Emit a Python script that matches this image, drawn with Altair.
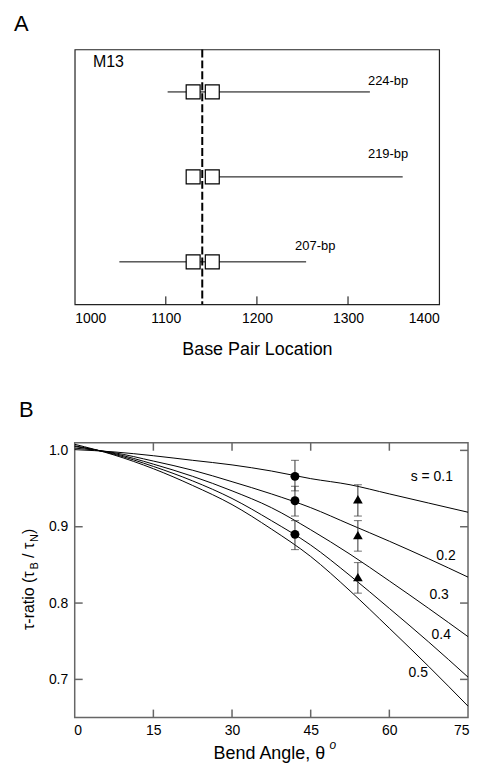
import altair as alt
import pandas as pd

FONT = "Liberation Sans"

# ---------------- Panel A data ----------------
a_rows = ["224-bp", "219-bp", "207-bp"]
a_row_pos = [5, 3, 1]
a_range_lo = [1102, 1151, 1049]
a_range_hi = [1324, 1360, 1254]
a_square_left = [1130, 1130, 1130]
a_square_right = [1151, 1151, 1151]
a_label_x = [1344, 1344, 1264]
a_label_y = [5.25, 3.54, 1.38]
a_ref_line = [1140]
a_tick_values = [1000, 1100, 1200, 1300, 1400]
a_inner_ticks = [1100, 1200, 1300]
a_note = ["M13"]
a_note_x = [1020]
a_note_y = [5.70]

# ---------------- Panel B data ----------------
b_angles = [0, 7.5, 15, 22.5, 30, 37.5, 45, 52.5, 60, 67.5, 75]
b_s = ["0.1", "0.2", "0.3", "0.4", "0.5"]
b_curve_01 = [1.001, 0.998, 0.993, 0.987, 0.981, 0.973, 0.963, 0.955, 0.943, 0.931, 0.919]
b_curve_02 = [1.003, 0.997, 0.986, 0.974, 0.959, 0.943, 0.925, 0.903, 0.881, 0.858, 0.834]
b_curve_03 = [1.005, 0.996, 0.982, 0.966, 0.947, 0.925, 0.896, 0.864, 0.829, 0.793, 0.756]
b_curve_04 = [1.006, 0.995, 0.979, 0.960, 0.937, 0.908, 0.876, 0.836, 0.793, 0.749, 0.703]
b_curve_05 = [1.008, 0.994, 0.976, 0.954, 0.929, 0.897, 0.861, 0.816, 0.767, 0.717, 0.665]

b_circle_x = [42, 42, 42]
b_circle_y = [0.966, 0.934, 0.890]
b_circle_lo = [0.947, 0.914, 0.870]
b_circle_hi = [0.987, 0.953, 0.908]

b_tri_x = [54, 54, 54]
b_tri_y = [0.936, 0.889, 0.834]
b_tri_lo = [0.914, 0.868, 0.813]
b_tri_hi = [0.955, 0.908, 0.853]

b_label_text = ["s = 0.1", "0.2", "0.3", "0.4", "0.5"]
b_label_x = [68.1, 70.8, 69.5, 69.9, 65.5]
b_label_y = [0.9645, 0.862, 0.810, 0.758, 0.708]

b_x_ticks = [0, 15, 30, 45, 60, 75]
b_x_inner = [15, 30, 45, 60]
b_y_ticks = [0.7, 0.8, 0.9, 1.0]
b_y_inner_left = [0.7, 0.8, 0.9]
b_y_inner_right = [0.7, 0.8, 0.9, 1.0]

# ---------------- Panel A ----------------
AW, AH = 366, 256
xa = alt.Scale(domain=[1000, 1400], nice=False)
ya = alt.Scale(domain=[0, 6], nice=False)

a_df = pd.DataFrame({
    "row": a_rows, "pos": a_row_pos, "lo": a_range_lo, "hi": a_range_hi,
    "sl": a_square_left, "sr": a_square_right, "lx": a_label_x, "ly": a_label_y,
})

a_err = alt.Chart(a_df).mark_rule(color="black", strokeWidth=1).encode(
    x=alt.X("lo:Q", scale=xa, axis=alt.Axis(
        values=a_tick_values, title="Base Pair Location", grid=False, ticks=False,
        tickSize=0, domain=False, labelFontSize=14, labelPadding=7, labelColor="black",
        titleFontSize=18, titleFontWeight="normal", titleColor="black",
        titleBaseline="alphabetic", titleY=50, format="d")),
    x2="hi:Q",
    y=alt.Y("pos:Q", scale=ya, axis=None),
)

a_ref = alt.Chart(pd.DataFrame({"v": a_ref_line})).mark_rule(
    color="black", strokeWidth=2, strokeDash=[8, 3]
).encode(x=alt.X("v:Q", scale=xa))

a_sq_l = alt.Chart(a_df).mark_point(
    shape="square", size=196, filled=True, fill="white", stroke="black",
    strokeWidth=1.2, opacity=1
).encode(x=alt.X("sl:Q", scale=xa), y=alt.Y("pos:Q", scale=ya, axis=None))

a_sq_r = alt.Chart(a_df).mark_point(
    shape="square", size=196, filled=True, fill="white", stroke="black",
    strokeWidth=1.2, opacity=1
).encode(x=alt.X("sr:Q", scale=xa), y=alt.Y("pos:Q", scale=ya, axis=None))

a_lab = alt.Chart(a_df).mark_text(fontSize=13, color="black", align="center", baseline="middle").encode(
    x=alt.X("lx:Q", scale=xa), y=alt.Y("ly:Q", scale=ya, axis=None), text="row:N")

a_m13 = alt.Chart(pd.DataFrame({"t": a_note, "x": a_note_x, "y": a_note_y})).mark_text(
    fontSize=16, color="black", align="left", baseline="middle"
).encode(x=alt.X("x:Q", scale=xa), y=alt.Y("y:Q", scale=ya, axis=None), text="t:N")

a_ticks = alt.Chart(pd.DataFrame({"t": a_inner_ticks})).mark_rule(color="black", strokeWidth=1).encode(
    x=alt.X("t:Q", scale=xa), y=alt.value(AH), y2=alt.value(AH - 8))

a_letter = alt.Chart(pd.DataFrame({"t": ["A"]})).mark_text(
    fontSize=22, color="black", align="left", baseline="alphabetic"
).encode(text="t:N", x=alt.value(-61), y=alt.value(-19))

chart_a = alt.layer(a_err, a_ref, a_sq_l, a_sq_r, a_lab, a_m13, a_ticks, a_letter).properties(
    width=AW, height=AH, view=alt.ViewBackground(stroke="#222", strokeWidth=1.2))

# ---------------- Panel B ----------------
BW, BH = 395, 276
xb = alt.Scale(domain=[0, 75], nice=False)
yb = alt.Scale(domain=[0.65, 1.01], nice=False, zero=False)
GRAY = "#666"

curve_rows = []
for s, vals in zip(b_s, [b_curve_01, b_curve_02, b_curve_03, b_curve_04, b_curve_05]):
    for a, v in zip(b_angles, vals):
        curve_rows.append({"angle": a, "ratio": v, "s": s})
b_curves_df = pd.DataFrame(curve_rows)

b_curves = alt.Chart(b_curves_df).mark_line(
    color="black", strokeWidth=1, interpolate="monotone"
).encode(
    x=alt.X("angle:Q", scale=xb, axis=alt.Axis(
        values=b_x_ticks, title="Bend Angle, θ", grid=False, ticks=False, tickSize=0,
        domain=False, labelFontSize=14, labelPadding=6, labelColor="black",
        titleFontSize=18, titleFontWeight="normal", titleColor="black",
        titleBaseline="alphabetic", titleY=41, titleX=195, titleAlign="center",
        labelFlush=True, labelFlushOffset=1)),
    y=alt.Y("ratio:Q", scale=yb, axis=alt.Axis(
        values=b_y_ticks, title=None, grid=False, ticks=False, tickSize=0, domain=False,
        labelFontSize=14, labelPadding=7, labelColor="black", format=".1f")),
    detail="s:N",
)

circ_df = pd.DataFrame({"x": b_circle_x, "y": b_circle_y, "lo": b_circle_lo, "hi": b_circle_hi})
tri_df = pd.DataFrame({"x": b_tri_x, "y": b_tri_y, "lo": b_tri_lo, "hi": b_tri_hi})

ERR = "#333"

def err_layers(df):
    bar = alt.Chart(df).mark_rule(color=ERR, strokeWidth=1).encode(
        x=alt.X("x:Q", scale=xb), y=alt.Y("lo:Q", scale=yb), y2="hi:Q")
    cap_lo = alt.Chart(df).mark_tick(orient="horizontal", size=8, thickness=1, color=ERR).encode(
        x=alt.X("x:Q", scale=xb), y=alt.Y("lo:Q", scale=yb))
    cap_hi = alt.Chart(df).mark_tick(orient="horizontal", size=8, thickness=1, color=ERR).encode(
        x=alt.X("x:Q", scale=xb), y=alt.Y("hi:Q", scale=yb))
    return [bar, cap_lo, cap_hi]

b_circles = alt.Chart(circ_df).mark_point(shape="circle", filled=True, size=80, color="black", opacity=1).encode(
    x=alt.X("x:Q", scale=xb), y=alt.Y("y:Q", scale=yb))
b_tris = alt.Chart(tri_df).mark_point(shape="triangle-up", filled=True, size=95, color="black", opacity=1).encode(
    x=alt.X("x:Q", scale=xb), y=alt.Y("y:Q", scale=yb))

b_labels = alt.Chart(pd.DataFrame({"t": b_label_text, "x": b_label_x, "y": b_label_y})).mark_text(
    fontSize=14, color="black", align="center", baseline="middle"
).encode(x=alt.X("x:Q", scale=xb), y=alt.Y("y:Q", scale=yb), text="t:N")

tick_style = dict(color=GRAY, strokeWidth=1.5)
b_tk_bottom = alt.Chart(pd.DataFrame({"t": b_x_inner})).mark_rule(**tick_style).encode(
    x=alt.X("t:Q", scale=xb), y=alt.value(BH), y2=alt.value(BH - 8))
b_tk_top = alt.Chart(pd.DataFrame({"t": b_x_inner})).mark_rule(**tick_style).encode(
    x=alt.X("t:Q", scale=xb), y=alt.value(0), y2=alt.value(8))
b_tk_left = alt.Chart(pd.DataFrame({"t": b_y_inner_left})).mark_rule(**tick_style).encode(
    y=alt.Y("t:Q", scale=yb), x=alt.value(0), x2=alt.value(8))
b_tk_right = alt.Chart(pd.DataFrame({"t": b_y_inner_right})).mark_rule(**tick_style).encode(
    y=alt.Y("t:Q", scale=yb), x=alt.value(BW), x2=alt.value(BW - 8))

def txt(s, x, y, size=16, angle=270, style="normal"):
    return alt.Chart(pd.DataFrame({"t": [s]})).mark_text(
        fontSize=size, color="black", align="left", baseline="alphabetic",
        angle=angle, fontStyle=style
    ).encode(text="t:N", x=alt.value(x), y=alt.value(y))

# y-axis title with subscripts: τ-ratio (τ_B / τ_N)
ytitle = [
    txt("τ-ratio (τ", -40.5, 188),
    txt("B", -36.5, 127.4, size=11),
    txt("/ τ", -40.5, 115.7),
    txt("N", -36.5, 99.6, size=11),
    txt(")", -40.5, 91.7),
]
b_letter = txt("B", -56, -26, size=22, angle=0)
b_sup = txt("o", 256, 308, size=12, angle=0, style="italic")

chart_b = alt.layer(
    b_curves, *err_layers(circ_df), *err_layers(tri_df), b_circles, b_tris, b_labels,
    b_tk_bottom, b_tk_top, b_tk_left, b_tk_right, *ytitle, b_letter, b_sup
).properties(width=BW, height=BH, view=alt.ViewBackground(stroke=GRAY, strokeWidth=1.5))

chart = alt.vconcat(chart_a, chart_b, spacing=39).properties(
    padding={"left": 5, "top": 2, "right": 0, "bottom": 0}
).configure(font=FONT).configure_view(fill="white")

chart.save("out.html", embed_options={"renderer": "svg", "actions": False})
